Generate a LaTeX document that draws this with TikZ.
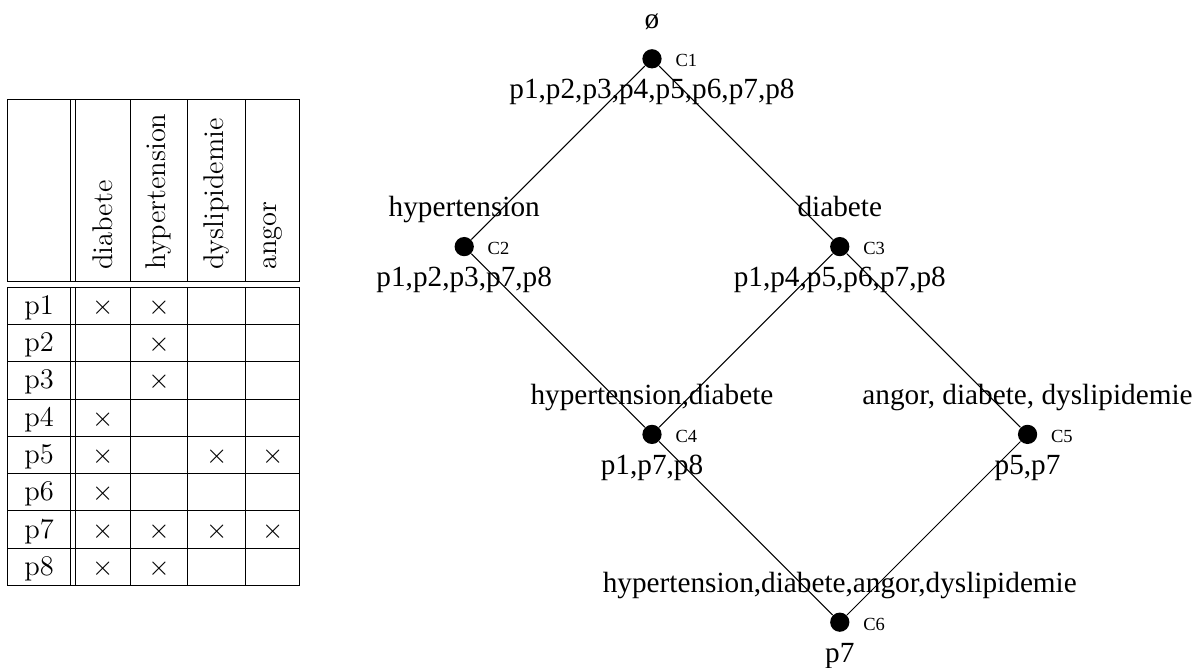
\documentclass[tikz,border=0pt]{standalone}
\usepackage{fontspec}
\usepackage{tikz}
\usetikzlibrary{positioning}

\newfontfamily\timesfont{Liberation Serif}
\newcommand{\latfont}{\timesfont\fontsize{11.7}{14}\selectfont}
\newcommand{\cnfont}{\timesfont\fontsize{7.4}{9}\selectfont}
\newcommand{\tabfont}{\fontsize{11.4}{13.7}\selectfont}

\tikzset{
    concept/.style={circle, fill=black, inner sep=0pt, minimum size=7.7pt},
    intent/.style={font=\latfont, anchor=base, inner sep=0pt},
    cname/.style={font=\cnfont, anchor=west, inner sep=0pt},
    header/.style={font=\tabfont, rotate=90, anchor=west, inner sep=0pt},
    cell/.style={font=\tabfont, anchor=base, inner sep=0pt},
    rule/.style={line width=0.4pt}
}

\begin{document}
\begin{tikzpicture}
    \useasboundingbox (0,0) rectangle (16.842,9.391);

    % Table: rules
    \draw[rule] (0.103,7.995) -- (4.217,7.995);
    \draw[rule] (0.103,5.431) -- (4.217,5.431);
    \foreach \i in {0,...,8}
        \draw[rule] (0.103,{5.352-0.524*\i}) -- (4.217,{5.352-0.524*\i});
    \foreach \x in {0.103,0.994,1.059,1.828,2.639,3.454,4.217} {
        \draw[rule] (\x,7.995) -- (\x,5.431);
        \draw[rule] (\x,5.352) -- (\x,1.160);
    }

    % Table: attributes
    \foreach \xc/\txt/\nm in {1.444/diabete/hdiab, 2.234/hypertension/hhyp,
                              3.047/dyslipidemie/hdys, 3.836/angor/hang}
        \node[header] (\nm) at (\xc,5.595) {\txt};

    % Table: objects and crosses
    \foreach \i in {1,...,8}
        \node[cell] (p\i) at (0.549,{5.352-0.524*\i+0.143}) {p\i};
    \foreach \i/\c/\xc in {1/a/1.444, 1/b/2.234, 2/b/2.234, 3/b/2.234, 4/a/1.444,
                           5/a/1.444, 5/c/3.047, 5/d/3.836, 6/a/1.444,
                           7/a/1.444, 7/b/2.234, 7/c/3.047, 7/d/3.836,
                           8/a/1.444, 8/b/2.234}
        \node[cell] (x\i\c) at (\xc,{5.352-0.524*\i+0.143}) {$\times$};

    % Lattice: concepts
    \node[concept] (c1) at (9.166,8.564) {};
    \node[concept] (c2) at (6.526,5.924) {};
    \node[concept] (c3) at (11.806,5.924) {};
    \node[concept] (c4) at (9.166,3.284) {};
    \node[concept] (c5) at (14.446,3.284) {};
    \node[concept] (c6) at (11.806,0.644) {};

    % Lattice: edges
    \draw (c1) -- (c2);
    \draw (c1) -- (c3);
    \draw (c2) -- (c4);
    \draw (c3) -- (c4);
    \draw (c3) -- (c5);
    \draw (c4) -- (c6);
    \draw (c5) -- (c6);

    % Concept names
    \foreach \n in {1,...,6}
        \node[cname] (c\n n) at ([xshift=9.2pt,yshift=-0.8pt]c\n.center) {C\n};

    % Intents (above)
    \node[intent] (c1a) at ([yshift=12pt]c1.center) {ø};
    \node[intent] (c2a) at ([yshift=12pt]c2.center) {hypertension};
    \node[intent] (c3a) at ([yshift=12pt]c3.center) {diabete};
    \node[intent] (c4a) at ([yshift=12pt]c4.center) {hypertension,diabete};
    \node[intent] (c5a) at ([yshift=12pt]c5.center) {angor, diabete, dyslipidemie};
    \node[intent] (c6a) at ([yshift=12pt]c6.center) {hypertension,diabete,angor,dyslipidemie};

    % Extents (below)
    \node[intent] (c1b) at ([yshift=-16pt]c1.center) {p1,p2,p3,p4,p5,p6,p7,p8};
    \node[intent] (c2b) at ([yshift=-16pt]c2.center) {p1,p2,p3,p7,p8};
    \node[intent] (c3b) at ([yshift=-16pt]c3.center) {p1,p4,p5,p6,p7,p8};
    \node[intent] (c4b) at ([yshift=-16pt]c4.center) {p1,p7,p8};
    \node[intent] (c5b) at ([yshift=-16pt]c5.center) {p5,p7};
    \node[intent] (c6b) at ([yshift=-16pt]c6.center) {p7};
\end{tikzpicture}
\end{document}
